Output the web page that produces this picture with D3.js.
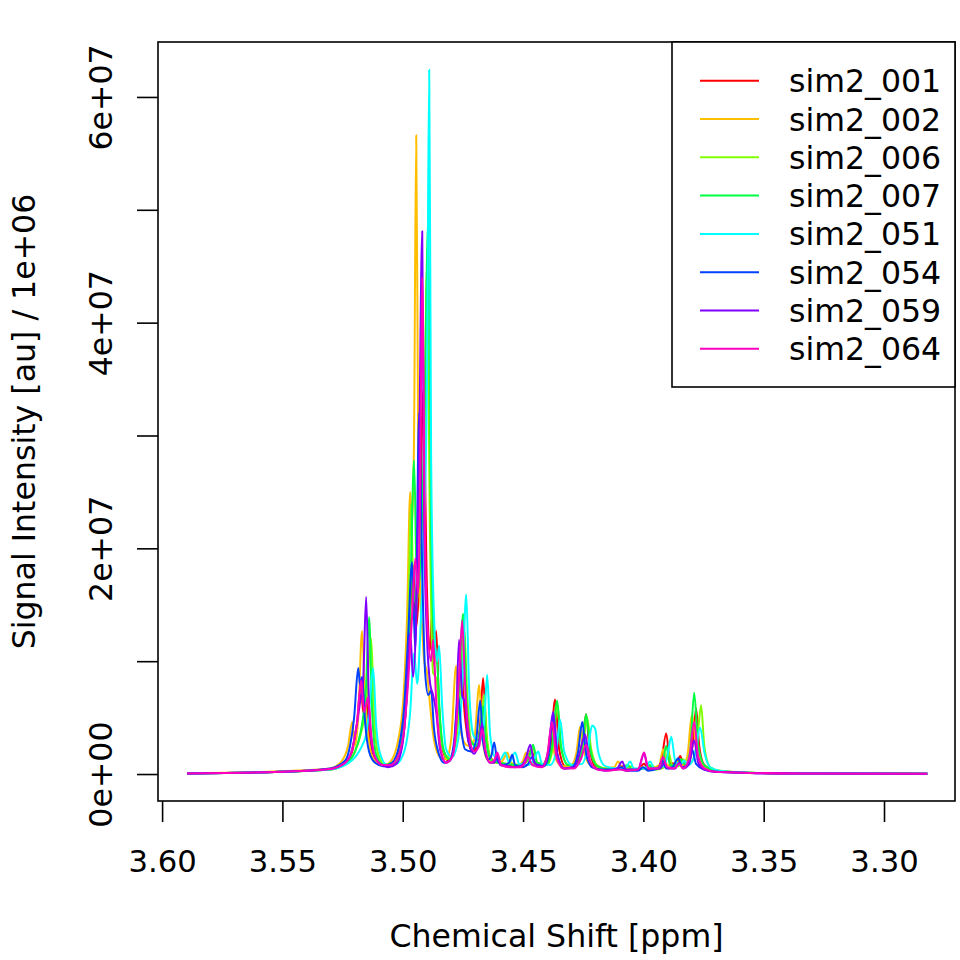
<!DOCTYPE html>
<html lang="en">
<head>
    <meta charset="UTF-8">
    <title>Spectra overlay</title>
    <script src="https://d3js.org/d3.v7.min.js"></script>
    <style>
        body { margin: 0; background: #fff; }
        text { font-family: "DejaVu Sans", sans-serif; }
    </style>
</head>
<body>
    <div id="chart"></div>
    <script>
        // Series names and colours (R rainbow(8))
        const seriesNames = ["sim2_001", "sim2_002", "sim2_006", "sim2_007", "sim2_051", "sim2_054", "sim2_059", "sim2_064"];
        const seriesColors = ["#FF0000", "#FFBF00", "#80FF00", "#00FF40", "#00FFFF", "#0040FF", "#8000FF", "#FF00BF"];

        // Tick values: ppm on x, intensity (millions) on y
        const xTicks = [3.60, 3.55, 3.50, 3.45, 3.40, 3.35, 3.30];
        const yTicks = [0, 10, 20, 30, 40, 50, 60];
        const yLabelTicks = [0, 20, 40, 60];

        // Spectra: [chemical shift ppm, intensity in millions]
        const sim2_001 = [[3.5896,0.05],[3.5510,0.2],[3.5302,0.4],[3.5239,1.0],[3.5210,2.0],[3.5190,4.5],[3.5173,8.1],[3.5165,5.5],[3.5152,6.8],[3.5140,3.5],[3.5123,1.8],[3.5094,0.9],[3.5061,0.7],[3.5019,1.5],[3.4994,4.0],[3.4978,9.0],[3.4957,18.5],[3.4944,13.0],[3.4932,17.0],[3.4915,34.0],[3.4899,16.0],[3.4886,11.0],[3.4878,14.3],[3.4870,9.5],[3.4861,12.7],[3.4849,6.0],[3.4832,2.0],[3.4811,1.2],[3.4786,2.5],[3.4770,7.0],[3.4757,10.5],[3.4745,6.0],[3.4728,3.0],[3.4712,2.0],[3.4691,2.5],[3.4678,4.5],[3.4666,8.5],[3.4653,3.5],[3.4637,1.5],[3.4616,1.1],[3.4595,1.0],[3.4562,0.8],[3.4533,0.7],[3.4504,0.8],[3.4483,1.2],[3.4466,2.2],[3.4450,1.0],[3.4408,0.8],[3.4387,1.8],[3.4367,6.6],[3.4350,2.2],[3.4325,0.7],[3.4283,0.8],[3.4263,1.8],[3.4250,3.5],[3.4238,5.3],[3.4225,2.5],[3.4200,0.7],[3.4159,0.4],[3.4105,0.5],[3.4088,0.7],[3.4072,0.4],[3.4022,0.4],[3.3997,0.9],[3.3980,0.4],[3.3930,0.7],[3.3905,3.6],[3.3889,1.0],[3.3864,0.9],[3.3847,1.6],[3.3831,0.7],[3.3806,1.3],[3.3793,3.0],[3.3781,5.8],[3.3768,2.5],[3.3747,0.8],[3.3702,0.3],[3.3556,0.12],[3.3348,0.06],[3.2820,0.03]];

        const sim2_002 = [[3.5896,0.05],[3.5510,0.25],[3.5302,0.5],[3.5252,1.2],[3.5227,2.5],[3.5210,4.6],[3.5198,2.5],[3.5185,5.0],[3.5169,12.7],[3.5156,6.0],[3.5144,3.5],[3.5127,1.5],[3.5102,0.9],[3.5073,0.8],[3.5044,1.3],[3.5019,3.0],[3.4998,6.5],[3.4982,14.0],[3.4969,25.0],[3.4961,22.0],[3.4953,30.0],[3.4944,56.6],[3.4936,30.0],[3.4928,16.0],[3.4919,12.9],[3.4911,10.0],[3.4899,9.0],[3.4886,6.0],[3.4870,3.0],[3.4845,1.5],[3.4820,1.3],[3.4799,3.0],[3.4778,9.6],[3.4766,5.0],[3.4749,3.0],[3.4728,2.5],[3.4703,3.0],[3.4682,7.9],[3.4670,3.5],[3.4649,1.3],[3.4620,1.0],[3.4595,1.0],[3.4579,1.4],[3.4566,1.9],[3.4549,1.0],[3.4520,0.8],[3.4500,1.2],[3.4487,1.9],[3.4470,1.0],[3.4429,0.7],[3.4400,1.5],[3.4383,4.0],[3.4367,1.5],[3.4338,0.7],[3.4304,0.7],[3.4279,1.8],[3.4263,4.2],[3.4246,2.0],[3.4221,0.8],[3.4180,0.5],[3.4121,0.6],[3.4105,1.1],[3.4088,0.5],[3.4034,0.4],[3.4005,0.6],[3.3972,0.5],[3.3934,0.8],[3.3918,2.2],[3.3901,0.8],[3.3876,0.7],[3.3860,1.1],[3.3843,0.7],[3.3818,1.5],[3.3798,5.3],[3.3781,2.5],[3.3760,1.0],[3.3722,0.4],[3.3556,0.12],[3.3348,0.06],[3.2820,0.03]];

        const sim2_006 = [[3.5896,0.05],[3.5510,0.2],[3.5302,0.4],[3.5239,0.9],[3.5198,2.0],[3.5169,4.0],[3.5152,6.0],[3.5144,9.0],[3.5131,12.0],[3.5119,5.0],[3.5102,1.8],[3.5073,0.8],[3.5032,1.0],[3.5002,2.8],[3.4982,8.0],[3.4965,24.0],[3.4957,17.0],[3.4944,15.0],[3.4928,20.0],[3.4911,28.0],[3.4899,45.0],[3.4886,20.0],[3.4874,9.0],[3.4861,8.5],[3.4853,7.0],[3.4836,2.5],[3.4811,1.3],[3.4782,2.5],[3.4761,7.0],[3.4745,13.0],[3.4732,7.0],[3.4716,3.0],[3.4691,2.5],[3.4674,4.0],[3.4662,7.0],[3.4649,3.0],[3.4628,1.2],[3.4595,1.0],[3.4562,0.9],[3.4512,0.8],[3.4479,1.3],[3.4458,2.3],[3.4441,1.0],[3.4400,0.8],[3.4375,2.5],[3.4358,6.2],[3.4342,2.5],[3.4313,0.8],[3.4271,0.9],[3.4250,2.5],[3.4234,5.0],[3.4217,2.2],[3.4188,0.7],[3.4138,0.4],[3.4080,0.5],[3.4055,0.7],[3.4030,0.4],[3.3988,0.5],[3.3964,0.8],[3.3947,0.4],[3.3914,0.6],[3.3897,2.0],[3.3880,0.8],[3.3855,0.7],[3.3835,1.3],[3.3818,0.8],[3.3793,1.3],[3.3776,3.0],[3.3760,6.1],[3.3747,2.5],[3.3722,0.6],[3.3681,0.3],[3.3556,0.12],[3.3348,0.06],[3.2820,0.03]];

        const sim2_007 = [[3.5896,0.05],[3.5510,0.2],[3.5302,0.4],[3.5239,0.9],[3.5198,2.0],[3.5177,3.5],[3.5165,5.0],[3.5152,8.0],[3.5140,13.9],[3.5127,5.5],[3.5111,1.8],[3.5081,0.8],[3.5044,1.0],[3.5011,2.5],[3.4986,7.0],[3.4969,15.0],[3.4953,27.8],[3.4940,16.0],[3.4928,18.0],[3.4911,30.0],[3.4894,49.0],[3.4882,22.0],[3.4870,12.0],[3.4857,10.0],[3.4845,5.0],[3.4828,2.0],[3.4803,1.3],[3.4782,3.0],[3.4766,7.5],[3.4749,14.2],[3.4736,7.0],[3.4720,3.0],[3.4695,2.5],[3.4678,4.0],[3.4666,6.0],[3.4653,2.8],[3.4632,1.2],[3.4603,1.0],[3.4570,0.9],[3.4529,0.8],[3.4495,1.0],[3.4475,1.5],[3.4458,2.6],[3.4441,1.0],[3.4404,0.8],[3.4379,2.5],[3.4358,6.5],[3.4342,2.3],[3.4313,0.8],[3.4271,0.9],[3.4254,2.5],[3.4238,5.3],[3.4221,2.2],[3.4192,0.7],[3.4138,0.4],[3.4088,0.5],[3.4067,0.8],[3.4047,0.4],[3.3997,0.5],[3.3976,0.8],[3.3955,0.4],[3.3922,0.7],[3.3905,2.5],[3.3889,0.8],[3.3864,0.7],[3.3843,1.3],[3.3826,0.8],[3.3806,2.0],[3.3789,7.2],[3.3772,2.5],[3.3747,0.8],[3.3702,0.3],[3.3556,0.12],[3.3348,0.06],[3.2820,0.03]];

        const sim2_051 = [[3.5896,0.05],[3.5510,0.2],[3.5302,0.4],[3.5239,0.8],[3.5198,1.5],[3.5169,2.5],[3.5152,3.5],[3.5140,5.5],[3.5123,9.4],[3.5111,4.5],[3.5094,1.8],[3.5065,0.8],[3.5027,0.9],[3.4994,2.0],[3.4969,5.5],[3.4953,10.7],[3.4940,8.0],[3.4928,12.0],[3.4911,22.0],[3.4899,35.0],[3.4890,62.4],[3.4882,28.0],[3.4870,14.0],[3.4857,10.0],[3.4849,11.4],[3.4836,6.0],[3.4820,2.2],[3.4795,1.5],[3.4770,3.0],[3.4753,7.5],[3.4736,15.9],[3.4724,7.5],[3.4707,3.5],[3.4682,2.8],[3.4662,4.5],[3.4649,8.8],[3.4637,3.5],[3.4616,1.5],[3.4595,1.3],[3.4574,1.9],[3.4558,1.0],[3.4533,1.9],[3.4516,0.9],[3.4479,0.8],[3.4454,1.3],[3.4437,2.0],[3.4421,0.9],[3.4387,0.8],[3.4362,2.0],[3.4346,4.8],[3.4329,2.0],[3.4296,0.8],[3.4254,0.9],[3.4229,2.5],[3.4213,4.3],[3.4200,4.0],[3.4188,2.0],[3.4159,0.7],[3.4105,0.5],[3.4072,0.6],[3.4055,1.1],[3.4039,0.5],[3.3993,0.5],[3.3972,1.1],[3.3955,0.5],[3.3914,0.7],[3.3901,1.5],[3.3884,3.3],[3.3868,1.2],[3.3847,0.8],[3.3831,1.2],[3.3814,0.8],[3.3789,1.5],[3.3764,4.1],[3.3747,2.0],[3.3722,0.6],[3.3681,0.3],[3.3556,0.12],[3.3348,0.06],[3.2820,0.03]];

        const sim2_054 = [[3.5896,0.05],[3.5510,0.2],[3.5302,0.5],[3.5239,1.2],[3.5219,2.5],[3.5202,5.0],[3.5185,9.4],[3.5177,7.8],[3.5169,8.6],[3.5156,4.5],[3.5140,2.0],[3.5115,1.0],[3.5081,0.7],[3.5044,1.0],[3.5015,2.5],[3.4994,6.0],[3.4978,12.0],[3.4961,18.8],[3.4948,11.0],[3.4932,32.0],[3.4919,18.0],[3.4907,9.0],[3.4894,7.0],[3.4882,7.4],[3.4870,4.0],[3.4853,2.0],[3.4828,1.0],[3.4803,1.2],[3.4786,3.0],[3.4770,7.0],[3.4757,4.0],[3.4741,2.2],[3.4716,2.0],[3.4695,3.0],[3.4678,6.5],[3.4666,2.8],[3.4645,1.3],[3.4632,1.6],[3.4620,2.8],[3.4607,1.2],[3.4582,0.8],[3.4558,1.0],[3.4545,1.7],[3.4533,0.8],[3.4504,0.6],[3.4479,0.9],[3.4462,1.5],[3.4446,0.8],[3.4412,0.7],[3.4392,2.0],[3.4375,5.2],[3.4358,1.8],[3.4329,0.5],[3.4296,0.6],[3.4271,2.0],[3.4254,4.6],[3.4238,1.8],[3.4213,0.6],[3.4171,0.4],[3.4117,0.4],[3.4092,0.6],[3.4072,0.3],[3.4022,0.3],[3.4001,0.6],[3.3980,0.3],[3.3938,0.5],[3.3922,1.2],[3.3905,0.5],[3.3880,0.6],[3.3855,1.4],[3.3839,0.6],[3.3814,0.8],[3.3798,2.2],[3.3781,0.9],[3.3747,0.4],[3.3702,0.2],[3.3556,0.1],[3.3348,0.05],[3.2820,0.03]];

        const sim2_059 = [[3.5896,0.05],[3.5510,0.2],[3.5302,0.45],[3.5239,1.0],[3.5210,2.2],[3.5190,4.5],[3.5173,7.0],[3.5165,8.0],[3.5152,15.7],[3.5140,6.0],[3.5123,2.0],[3.5094,0.9],[3.5061,0.6],[3.5027,0.9],[3.5002,2.5],[3.4986,6.0],[3.4969,12.5],[3.4957,8.6],[3.4944,14.0],[3.4932,28.0],[3.4919,48.1],[3.4911,22.0],[3.4899,12.0],[3.4886,8.0],[3.4874,7.0],[3.4861,5.5],[3.4845,2.2],[3.4820,1.0],[3.4795,1.5],[3.4778,5.0],[3.4766,11.9],[3.4753,7.0],[3.4741,6.3],[3.4728,3.0],[3.4703,1.8],[3.4682,3.0],[3.4670,4.5],[3.4657,2.0],[3.4637,1.0],[3.4620,1.0],[3.4607,1.7],[3.4595,0.8],[3.4562,0.7],[3.4533,0.6],[3.4504,0.8],[3.4487,1.5],[3.4470,2.6],[3.4454,1.0],[3.4421,0.7],[3.4396,2.0],[3.4375,5.5],[3.4358,1.8],[3.4329,0.5],[3.4288,0.6],[3.4263,2.0],[3.4242,3.5],[3.4225,1.3],[3.4200,0.5],[3.4159,0.3],[3.4109,0.5],[3.4088,1.1],[3.4072,0.4],[3.4022,0.4],[3.3997,1.8],[3.3980,0.5],[3.3930,0.5],[3.3914,1.0],[3.3897,0.5],[3.3868,0.5],[3.3851,1.0],[3.3835,0.5],[3.3810,0.9],[3.3789,3.0],[3.3772,1.0],[3.3747,0.4],[3.3702,0.2],[3.3556,0.1],[3.3348,0.05],[3.2820,0.03]];

        const sim2_064 = [[3.5896,0.05],[3.5510,0.2],[3.5302,0.45],[3.5239,1.0],[3.5210,2.2],[3.5190,4.5],[3.5173,8.3],[3.5160,5.5],[3.5144,6.8],[3.5131,3.5],[3.5115,1.5],[3.5086,0.8],[3.5052,0.8],[3.5019,1.6],[3.4994,4.0],[3.4978,8.0],[3.4961,14.0],[3.4948,19.1],[3.4936,16.0],[3.4928,25.0],[3.4919,44.0],[3.4907,20.0],[3.4894,12.0],[3.4882,10.0],[3.4874,11.9],[3.4861,6.5],[3.4845,2.5],[3.4820,1.0],[3.4795,1.5],[3.4778,4.0],[3.4766,8.5],[3.4753,13.6],[3.4741,8.0],[3.4728,4.0],[3.4703,2.0],[3.4682,2.5],[3.4670,4.0],[3.4657,2.2],[3.4637,1.0],[3.4620,1.2],[3.4607,1.9],[3.4591,0.8],[3.4554,0.6],[3.4512,0.6],[3.4495,0.9],[3.4479,1.5],[3.4462,0.8],[3.4421,0.6],[3.4400,1.6],[3.4379,4.6],[3.4362,1.6],[3.4333,0.5],[3.4288,0.5],[3.4258,1.4],[3.4238,2.6],[3.4221,1.1],[3.4192,0.4],[3.4146,0.3],[3.4097,0.4],[3.4072,0.3],[3.4022,0.4],[3.3997,1.9],[3.3980,0.5],[3.3938,0.5],[3.3918,1.5],[3.3901,0.6],[3.3872,0.5],[3.3851,0.9],[3.3835,0.5],[3.3810,1.4],[3.3789,4.6],[3.3772,1.5],[3.3747,0.5],[3.3702,0.2],[3.3556,0.1],[3.3348,0.05],[3.2820,0.03]];

        const seriesData = [sim2_001, sim2_002, sim2_006, sim2_007, sim2_051, sim2_054, sim2_059, sim2_064];

        // Layout (matches R base graphics margins)
        const width = 960, height = 960;
        const margin = { top: 42, right: 5, bottom: 159, left: 158 };
        const tickFont = "30.7px";
        const textFont = "31.6px";

        const svg = d3.select("#chart").append("svg")
            .attr("width", width)
            .attr("height", height);

        // ppm axis runs right to left
        const x = d3.scaleLinear()
            .domain([3.6017, 3.2705])
            .range([margin.left, width - margin.right]);

        const y = d3.scaleLinear()
            .domain([-2.39, 64.87])
            .range([height - margin.bottom, margin.top]);

        // R style scientific labels, e.g. 2e+07
        function sci(v) {
            if (v === 0) return "0e+00";
            const e = Math.floor(Math.log10(v));
            const m = Math.round(v / Math.pow(10, e));
            return m + "e+" + String(e).padStart(2, "0");
        }

        // spectra, first series drawn first
        const line = d3.line()
            .x(d => x(d[0]))
            .y(d => y(d[1]))
            .curve(d3.curveMonotoneX);

        svg.selectAll(".spectrum")
            .data(seriesData)
            .enter().append("path")
            .attr("class", "spectrum")
            .attr("d", line)
            .attr("fill", "none")
            .attr("stroke", (d, i) => seriesColors[i])
            .attr("stroke-width", 2)
            .attr("stroke-linejoin", "round");

        // plot box
        svg.append("rect")
            .attr("x", margin.left)
            .attr("y", margin.top)
            .attr("width", width - margin.left - margin.right)
            .attr("height", height - margin.top - margin.bottom)
            .attr("fill", "none")
            .attr("stroke", "#000")
            .attr("stroke-width", 1.6);

        // x axis
        const xAxis = svg.append("g")
            .attr("transform", `translate(0,${height - margin.bottom})`)
            .call(d3.axisBottom(x).tickValues(xTicks).tickFormat(d3.format(".2f")).tickSize(21).tickSizeOuter(0));
        xAxis.select(".domain").remove();
        xAxis.selectAll(".tick line").attr("stroke-width", 1.6);
        xAxis.selectAll(".tick text")
            .attr("y", 71)
            .attr("dy", 0)
            .attr("fill", "#000")
            .style("font-family", "DejaVu Sans, sans-serif")
            .style("font-size", tickFont);

        // y axis
        const yAxis = svg.append("g")
            .attr("transform", `translate(${margin.left},0)`)
            .call(d3.axisLeft(y).tickValues(yTicks)
                .tickFormat(d => yLabelTicks.includes(d) ? sci(d * 1e6) : "")
                .tickSize(21).tickSizeOuter(0));
        yAxis.select(".domain").remove();
        yAxis.selectAll(".tick line").attr("stroke-width", 1.6);
        yAxis.selectAll(".tick text")
            .attr("x", 0)
            .attr("dy", 0)
            .attr("text-anchor", "middle")
            .attr("transform", "translate(-46.5,0) rotate(-90)")
            .attr("fill", "#000")
            .style("font-family", "DejaVu Sans, sans-serif")
            .style("font-size", textFont);

        // axis titles
        svg.append("text")
            .attr("x", (margin.left + width - margin.right) / 2)
            .attr("y", 946.5)
            .attr("text-anchor", "middle")
            .style("font-size", textFont)
            .text("Chemical Shift [ppm]");

        svg.append("text")
            .attr("transform", `translate(35,${(margin.top + height - margin.bottom) / 2}) rotate(-90)`)
            .attr("text-anchor", "middle")
            .style("font-size", textFont)
            .text("Signal Intensity [au] / 1e+06");

        // legend, top right
        const legendX = 672, legendY = 42, legendW = width - margin.right - 672, legendH = 345;
        const rowStep = 38.3, firstRow = 80.7;

        svg.append("rect")
            .attr("x", legendX)
            .attr("y", legendY)
            .attr("width", legendW)
            .attr("height", legendH)
            .attr("fill", "#fff")
            .attr("stroke", "#000")
            .attr("stroke-width", 1.6);

        const legend = svg.selectAll(".legend")
            .data(seriesNames)
            .enter().append("g")
            .attr("class", "legend")
            .attr("transform", (d, i) => `translate(0,${firstRow + i * rowStep})`);

        legend.append("line")
            .attr("x1", 700).attr("x2", 759)
            .attr("stroke", (d, i) => seriesColors[i])
            .attr("stroke-width", 2);

        legend.append("text")
            .attr("x", 789)
            .attr("y", 11.5)
            .style("font-size", textFont)
            .text(d => d);
    </script>
</body>
</html>
